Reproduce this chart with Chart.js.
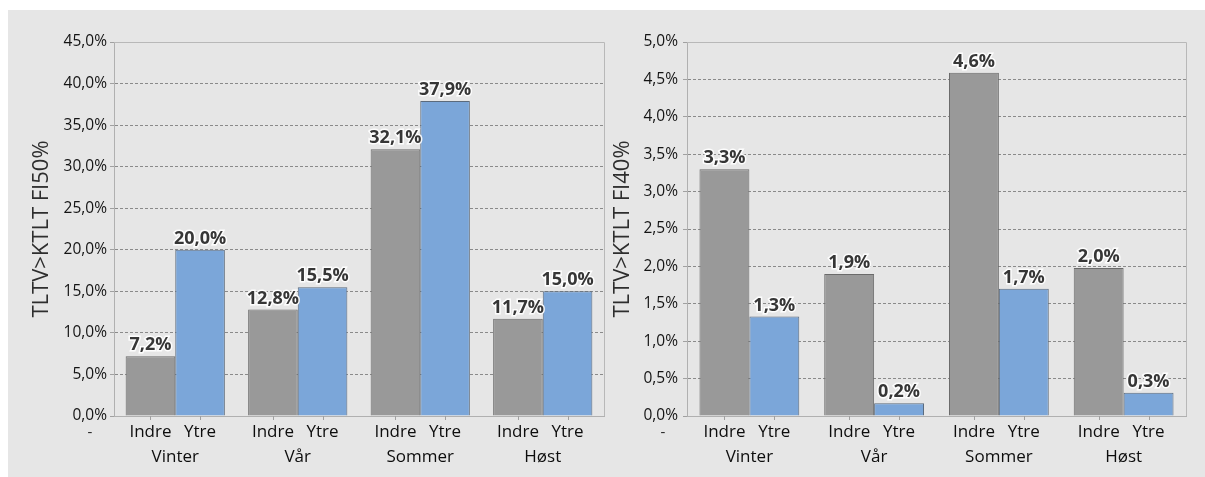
<!DOCTYPE html>
<html>
<head>
<meta charset="utf-8">
<script src="https://cdn.jsdelivr.net/npm/chart.js@4.4.1/dist/chart.umd.min.js"></script>
<style>
  body { margin: 0; background: #fff; }
  #panel { position: absolute; left: 8px; top: 10px; width: 1197px; height: 467px; background: #e6e6e6; }
  .box { position: absolute; top: 10px; height: 467px; }
  #leftBox { left: 8px; width: 600px; }
  #rightBox { left: 608px; width: 597px; }
</style>
</head>
<body>
<div id="panel"></div>
<div class="box" id="leftBox"><canvas id="fi50"></canvas></div>
<div class="box" id="rightBox"><canvas id="fi40"></canvas></div>
<script>
const seasons = ['Vinter', 'Vår', 'Sommer', 'Høst'];
const groups = ['Indre', 'Ytre'];

// TLTV>KTLT FI50% (venstre)
const fi50Indre = [7.2, 12.8, 32.1, 11.7];
const fi50Ytre = [20.0, 15.5, 37.9, 15.0];

// TLTV>KTLT FI40% (høyre)
const fi40Indre = [3.3, 1.9, 4.59, 1.98];
const fi40Ytre = [1.33, 0.17, 1.7, 0.31];

const FONT = "'Open Sans', sans-serif";
const pct = (v) => v.toFixed(1).replace('.', ',') + '%';

// etiketter over søylene, Indre/Ytre under søylene, rammen rundt plottet
const extras = {
    id: 'extras',
    beforeDatasetsDraw(chart) {
        const { ctx, chartArea: a } = chart;
        ctx.save();
        ctx.strokeStyle = '#b8b8b8';
        ctx.lineWidth = 1;
        ctx.beginPath();
        ctx.moveTo(a.left, a.top + 0.5);
        ctx.lineTo(a.right + 0.5, a.top + 0.5);
        ctx.lineTo(a.right + 0.5, a.bottom);
        ctx.stroke();
        ctx.restore();
    },
    afterDatasetsDraw(chart) {
        const { ctx, chartArea: a } = chart;
        ctx.save();
        chart.data.datasets.forEach((ds, di) => {
            const meta = chart.getDatasetMeta(di);
            meta.data.forEach((bar, i) => {
                // tekst over søylen
                ctx.font = "bold 18px " + FONT;
                ctx.textAlign = 'center';
                ctx.textBaseline = 'alphabetic';
                ctx.lineWidth = 3;
                ctx.strokeStyle = 'rgba(255,255,255,0.9)';
                ctx.strokeText(pct(ds.data[i]), bar.x, bar.y - 6);
                ctx.fillStyle = '#363636';
                ctx.fillText(pct(ds.data[i]), bar.x, bar.y - 6);

                // liten strek under aksen
                ctx.strokeStyle = '#a0a0a0';
                ctx.lineWidth = 1;
                ctx.beginPath();
                ctx.moveTo(Math.round(bar.x) + 0.5, a.bottom);
                ctx.lineTo(Math.round(bar.x) + 0.5, a.bottom + 4);
                ctx.stroke();

                // Indre / Ytre
                ctx.font = "17px " + FONT;
                ctx.fillStyle = '#0d0d0d';
                ctx.textBaseline = 'middle';
                ctx.fillText(ds.label, bar.x, a.bottom + 16);
            });
        });
        // bindestreken under 0,0%
        const y0 = chart.scales.y.getPixelForValue(0);
        ctx.font = "15px " + FONT;
        ctx.fillStyle = '#222';
        ctx.textAlign = 'center';
        ctx.textBaseline = 'middle';
        ctx.fillText('-', chart.scales.y.right - 24, y0 + 17);
        ctx.restore();
    }
};

function makeChart(id, indre, ytre, cfg) {
    return new Chart(document.getElementById(id), {
        type: 'bar',
        data: {
            labels: seasons,
            datasets: [
                { label: groups[0], data: indre, backgroundColor: '#999999', borderColor: '#6a6a6a', borderWidth: 1 },
                { label: groups[1], data: ytre, backgroundColor: '#7ba6d9', borderColor: '#5b6a7c', borderWidth: 1 }
            ]
        },
        options: {
            responsive: true,
            maintainAspectRatio: false,
            animation: false,
            categoryPercentage: cfg.catPct,
            barPercentage: 1,
            layout: { padding: { left: cfg.padLeft, top: 32, right: cfg.padRight, bottom: 0 } },
            plugins: { legend: { display: false }, tooltip: { enabled: false } },
            scales: {
                x: {
                    grid: { display: false },
                    border: { color: '#b0b0b0' },
                    ticks: { color: '#0d0d0d', font: { family: FONT, size: 17 }, padding: 23 },
                    afterFit: (s) => { s.height = 61; }
                },
                y: {
                    min: 0,
                    max: cfg.max,
                    ticks: {
                        stepSize: cfg.step,
                        color: '#141414',
                        font: { family: FONT, size: 15.5 },
                        padding: cfg.tickPad,
                        callback: (v) => pct(v)
                    },
                    grid: {
                        color: (c) => c.tick && c.tick.value === cfg.max ? 'rgba(0,0,0,0)' : '#8a8a8a',
                        tickColor: '#a0a0a0',
                        tickLength: 4,
                        lineWidth: 1
                    },
                    border: { color: '#b0b0b0', dash: [3, 2] },
                    title: {
                        display: true,
                        text: cfg.title,
                        color: '#2e2e2e',
                        font: { family: FONT, size: 22 },
                        padding: { top: 1, bottom: 0 }
                    },
                    afterFit: (s) => { s.width = cfg.yWidth; }
                }
            }
        },
        plugins: [extras]
    });
}

makeChart('fi50', fi50Indre, fi50Ytre, {
    title: 'TLTV>KTLT FI50%', max: 45, step: 5, catPct: 0.81,
    padLeft: 20, padRight: 4, yWidth: 86, tickPad: 3
});
makeChart('fi40', fi40Indre, fi40Ytre, {
    title: 'TLTV>KTLT FI40%', max: 5, step: 0.5, catPct: 0.80,
    padLeft: 1, padRight: 19, yWidth: 78, tickPad: 5
});
</script>
</body>
</html>
